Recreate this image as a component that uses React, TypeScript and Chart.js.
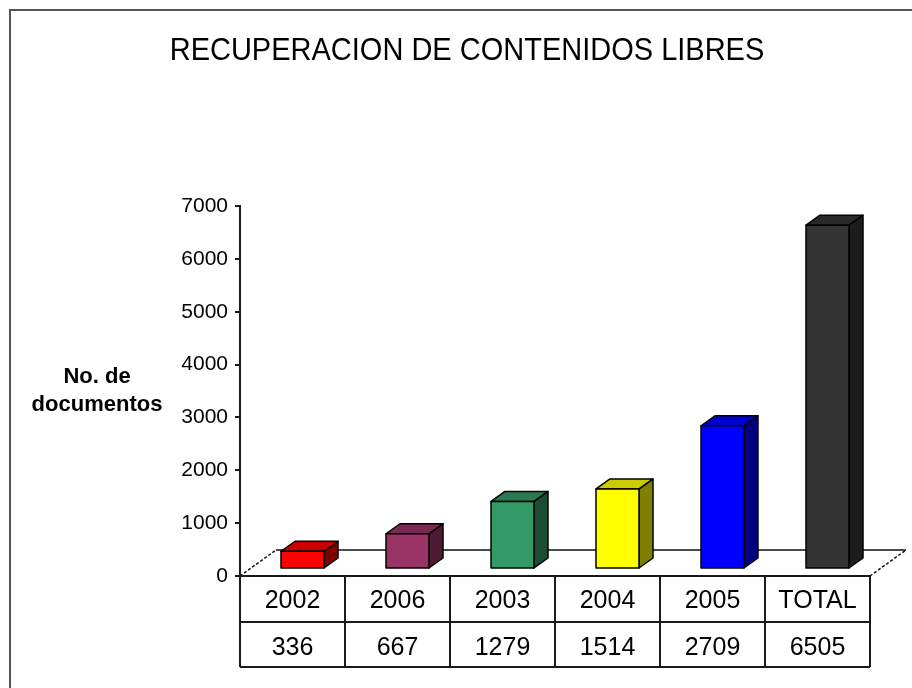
import React, { useEffect, useRef } from "react";
import { Chart, registerables } from "chart.js";

Chart.register(...registerables);

const chartTitle = "RECUPERACION DE CONTENIDOS LIBRES";
const yTitleLines = ["No. de", "documentos"];
const categories = ["2002", "2006", "2003", "2004", "2005", "TOTAL"];
const values = [336, 667, 1279, 1514, 2709, 6505];
const frontColors = ["#FF0000", "#993366", "#339966", "#FFFF00", "#0000FF", "#333333"];
const topColors = ["#CC0000", "#7A2952", "#297A52", "#CCCC00", "#0000CC", "#292929"];
const sideColors = ["#800000", "#4D1A33", "#1A4D33", "#808000", "#000080", "#1C1C1C"];
const yMin = 0;
const yMax = 7000;
const yStep = 1000;

const FONT = "'Liberation Sans', Arial, sans-serif";

// 3D styling constants
const SHIFT_X = 10;
const SHIFT_Y = -7;
const DEPTH_X = 14;
const DEPTH_Y = 10;
const FLOOR_DX = 36;
const FLOOR_DY = 26;
const ROW1 = 46;
const ROW2 = 91;

const threeDPlugin = {
  id: "threeD",
  beforeDraw(chart: any) {
    const ctx = chart.ctx;
    ctx.save();
    ctx.fillStyle = "#FFFFFF";
    ctx.fillRect(0, 0, chart.width, chart.height);
    ctx.strokeStyle = "#555555";
    ctx.lineWidth = 2;
    ctx.beginPath();
    ctx.moveTo(10, chart.height + 2);
    ctx.lineTo(10, 10);
    ctx.lineTo(chart.width + 2, 10);
    ctx.stroke();
    // title (slightly tall, condensed look)
    ctx.fillStyle = "#000000";
    ctx.font = `29px ${FONT}`;
    ctx.textAlign = "center";
    ctx.textBaseline = "alphabetic";
    ctx.translate(467, 60);
    ctx.scale(1, 1.1);
    ctx.fillText(chartTitle, 0, 0);
    ctx.restore();
  },
  beforeDatasetsDraw(chart: any) {
    const ctx = chart.ctx;
    const area = chart.chartArea;
    const y0 = chart.scales.y.getPixelForValue(0);
    ctx.save();
    // floor
    ctx.strokeStyle = "#111111";
    ctx.lineWidth = 1.5;
    ctx.beginPath();
    ctx.moveTo(area.left + FLOOR_DX, y0 - FLOOR_DY);
    ctx.lineTo(area.right + FLOOR_DX, y0 - FLOOR_DY);
    ctx.stroke();
    ctx.setLineDash([3, 2]);
    ctx.beginPath();
    ctx.moveTo(area.left, y0);
    ctx.lineTo(area.left + FLOOR_DX, y0 - FLOOR_DY);
    ctx.moveTo(area.right, y0);
    ctx.lineTo(area.right + FLOOR_DX, y0 - FLOOR_DY);
    ctx.stroke();
    ctx.setLineDash([]);

    const meta = chart.getDatasetMeta(0);
    meta.data.forEach((el: any, i: number) => {
      const p = el.getProps(["x", "y", "base", "width"], true);
      const left = p.x + SHIFT_X - p.width / 2;
      const right = left + p.width;
      const top = p.y + SHIFT_Y;
      const bottom = p.base + SHIFT_Y;
      ctx.lineWidth = 1.5;
      ctx.strokeStyle = "#000000";
      ctx.lineJoin = "round";
      // side
      ctx.beginPath();
      ctx.moveTo(right, bottom);
      ctx.lineTo(right + DEPTH_X, bottom - DEPTH_Y);
      ctx.lineTo(right + DEPTH_X, top - DEPTH_Y);
      ctx.lineTo(right, top);
      ctx.closePath();
      ctx.fillStyle = sideColors[i];
      ctx.fill();
      ctx.stroke();
      // top
      ctx.beginPath();
      ctx.moveTo(left, top);
      ctx.lineTo(left + DEPTH_X, top - DEPTH_Y);
      ctx.lineTo(right + DEPTH_X, top - DEPTH_Y);
      ctx.lineTo(right, top);
      ctx.closePath();
      ctx.fillStyle = topColors[i];
      ctx.fill();
      ctx.stroke();
      // front
      ctx.beginPath();
      ctx.rect(left, top, p.width, bottom - top);
      ctx.fillStyle = frontColors[i];
      ctx.fill();
      ctx.stroke();
    });
    ctx.restore();
    return false;
  },
  afterDraw(chart: any) {
    const ctx = chart.ctx;
    const area = chart.chartArea;
    const xs = chart.scales.x;
    const y0 = chart.scales.y.getPixelForValue(0);
    ctx.save();
    // data table
    const n = categories.length;
    const bounds: number[] = [area.left];
    for (let i = 0; i < n - 1; i++) {
      bounds.push((xs.getPixelForValue(i) + xs.getPixelForValue(i + 1)) / 2);
    }
    bounds.push(area.right);
    ctx.strokeStyle = "#1A1A1A";
    ctx.lineWidth = 2;
    ctx.beginPath();
    ctx.moveTo(area.left, y0);
    ctx.lineTo(area.right, y0);
    ctx.moveTo(area.left, y0 + ROW1);
    ctx.lineTo(area.right, y0 + ROW1);
    ctx.moveTo(area.left, y0 + ROW2);
    ctx.lineTo(area.right, y0 + ROW2);
    bounds.forEach((b) => {
      ctx.moveTo(b, y0);
      ctx.lineTo(b, y0 + ROW2);
    });
    ctx.stroke();
    ctx.fillStyle = "#000000";
    ctx.font = `25px ${FONT}`;
    ctx.textAlign = "center";
    ctx.textBaseline = "alphabetic";
    for (let i = 0; i < n; i++) {
      const cx = (bounds[i] + bounds[i + 1]) / 2;
      ctx.fillText(categories[i], cx, y0 + 32);
      ctx.fillText(String(values[i]), cx, y0 + 79);
    }
    // y axis title
    ctx.font = `bold 22px ${FONT}`;
    ctx.fillText(yTitleLines[0], 97, 383);
    ctx.fillText(yTitleLines[1], 97, 411);
    ctx.restore();
  },
};

export default function App() {
  const ref = useRef<HTMLCanvasElement | null>(null);
  useEffect(() => {
    document.body.style.margin = "0";
    document.body.style.overflow = "hidden";
    const canvas = ref.current;
    if (!canvas) return;
    const chart = new Chart(canvas, {
      type: "bar",
      data: {
        labels: categories,
        datasets: [
          {
            data: values,
            backgroundColor: frontColors,
            barThickness: 43,
          },
        ],
      },
      options: {
        responsive: false,
        animation: false,
        devicePixelRatio: 1,
        layout: { padding: { left: 0, top: 206, right: 42, bottom: 112 } },
        plugins: {
          legend: { display: false },
          tooltip: { enabled: false },
          title: { display: false },
        },
        scales: {
          x: { display: false },
          y: {
            min: yMin,
            max: yMax,
            ticks: {
              stepSize: yStep,
              color: "#000000",
              font: { family: FONT, size: 21 },
              padding: 7,
              callback: (v: any) => String(v),
            },
            grid: {
              drawOnChartArea: false,
              drawTicks: true,
              tickLength: 5,
              color: "#1A1A1A",
              lineWidth: 2,
            },
            border: { display: true, color: "#1A1A1A", width: 2 },
            afterFit(scale: any) {
              scale.width = 240;
            },
          },
        },
      },
      plugins: [threeDPlugin],
    });
    return () => chart.destroy();
  }, []);
  return <canvas ref={ref} width={912} height={688} style={{ display: "block" }} />;
}
